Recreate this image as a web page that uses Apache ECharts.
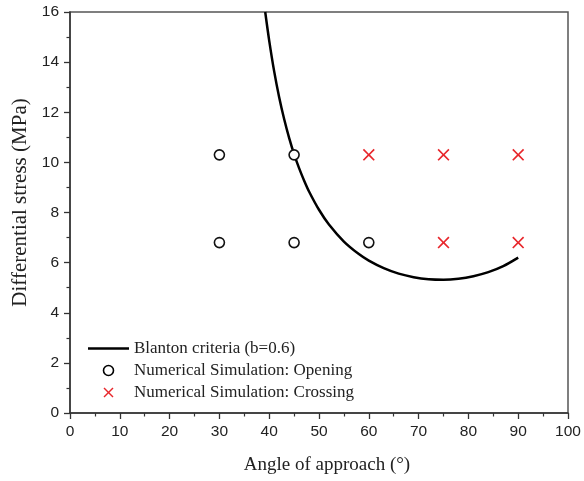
<!DOCTYPE html>
<html>
<head>
<meta charset="utf-8">
<script src="https://cdn.jsdelivr.net/npm/echarts@6/dist/echarts.min.js"></script>
<style>html,body{margin:0;padding:0;background:#fff;}#c{width:584px;height:481px;}</style>
</head>
<body>
<div id="c"></div>
<script>
// Blanton criterion curve (angle, differential stress)
const curveAngle  = [39.2, 40, 41, 42, 43, 44, 45, 46, 47, 48, 50, 52, 55, 58, 60, 63, 66, 69, 72, 75, 78, 81, 84, 87, 90];
const curveStress = [16.0, 14.86, 13.63, 12.6, 11.73, 10.98, 10.33, 9.77, 9.28, 8.84, 8.11, 7.52, 6.84, 6.34, 6.08, 5.78, 5.56, 5.42, 5.34, 5.32, 5.36, 5.46, 5.62, 5.86, 6.2];
// Numerical simulation: Opening
const openAngle  = [30, 45, 30, 45, 60];
const openStress = [10.3, 10.3, 6.8, 6.8, 6.8];
// Numerical simulation: Crossing
const crossAngle  = [60, 75, 90, 75, 90];
const crossStress = [10.3, 10.3, 10.3, 6.8, 6.8];

const xTicks = [0, 10, 20, 30, 40, 50, 60, 70, 80, 90, 100];
const yTicks = [0, 2, 4, 6, 8, 10, 12, 14, 16];

const zip = (a, b) => a.map((v, i) => [v, b[i]]);
const crossPath = 'path://M0,1L1,0L5,4L9,0L10,1L6,5L10,9L9,10L5,6L1,10L0,9L4,5Z';
const serif = '"Liberation Serif","Times New Roman",serif';
const sans = '"Liberation Sans",Arial,sans-serif';

const chart = echarts.init(document.getElementById('c'), null, {renderer: 'canvas'});
chart.setOption({
  animation: false,
  backgroundColor: '#fff',
  grid: {left: 70, top: 12, right: 16, bottom: 68, show: true, borderColor: '#555', borderWidth: 1.5, backgroundColor: 'transparent'},
  xAxis: {
    type: 'value', min: xTicks[0], max: xTicks[xTicks.length - 1], interval: 10,
    name: 'Angle of approach (°)', nameLocation: 'middle', nameGap: 43,
    nameTextStyle: {fontFamily: serif, fontSize: 19, color: '#222', padding: [0, 0, 0, 16]},
    axisLine: {show: true, onZero: false, lineStyle: {color: '#333', width: 1.5}},
    axisTick: {show: true, inside: false, length: 6, lineStyle: {color: '#333', width: 1.3}},
    minorTick: {show: true, splitNumber: 2, length: 3.5, lineStyle: {color: '#333', width: 1.2}},
    axisLabel: {fontFamily: sans, fontSize: 15.5, color: '#222', margin: 11},
    splitLine: {show: false}
  },
  yAxis: {
    type: 'value', min: yTicks[0], max: yTicks[yTicks.length - 1], interval: 2,
    name: 'Differential stress (MPa)', nameLocation: 'middle', nameGap: 36, nameRotate: 90,
    nameTextStyle: {fontFamily: serif, fontSize: 21, color: '#222', padding: [0, 0, 0, 20]},
    axisLine: {show: true, onZero: false, lineStyle: {color: '#333', width: 1.5}},
    axisTick: {show: true, inside: false, length: 6, lineStyle: {color: '#333', width: 1.3}},
    minorTick: {show: true, splitNumber: 2, length: 3.5, lineStyle: {color: '#333', width: 1.2}},
    axisLabel: {fontFamily: sans, fontSize: 15.5, color: '#222', margin: 11},
    splitLine: {show: false}
  },
  legend: {
    orient: 'vertical', left: 83, top: 335, itemWidth: 41, itemHeight: 10, itemGap: 5,
    textStyle: {fontFamily: serif, fontSize: 17, color: '#222'},
    data: [
      {name: 'Blanton criteria (b=0.6)', icon: 'path://M0,0L41,0L41,2.6L0,2.6Z', itemStyle: {color: '#000'}},
      {name: 'Numerical Simulation: Opening', icon: 'circle', itemStyle: {color: '#fff', borderColor: '#000', borderWidth: 1.6}},
      {name: 'Numerical Simulation: Crossing', icon: crossPath, itemStyle: {color: '#e8262b'}}
    ]
  },
  series: [
    {
      name: 'Blanton criteria (b=0.6)', type: 'line', data: zip(curveAngle, curveStress),
      smooth: 0.3, showSymbol: false, symbol: 'none', z: 2,
      lineStyle: {color: '#000', width: 2.5}
    },
    {
      name: 'Numerical Simulation: Opening', type: 'scatter', data: zip(openAngle, openStress),
      symbol: 'circle', symbolSize: 10, z: 3,
      itemStyle: {color: '#fff', borderColor: '#111', borderWidth: 1.6, opacity: 1}
    },
    {
      name: 'Numerical Simulation: Crossing', type: 'scatter', data: zip(crossAngle, crossStress),
      symbol: crossPath, symbolSize: 12, z: 3,
      itemStyle: {color: '#e8262b', opacity: 1}
    }
  ]
});
</script>
</body>
</html>
